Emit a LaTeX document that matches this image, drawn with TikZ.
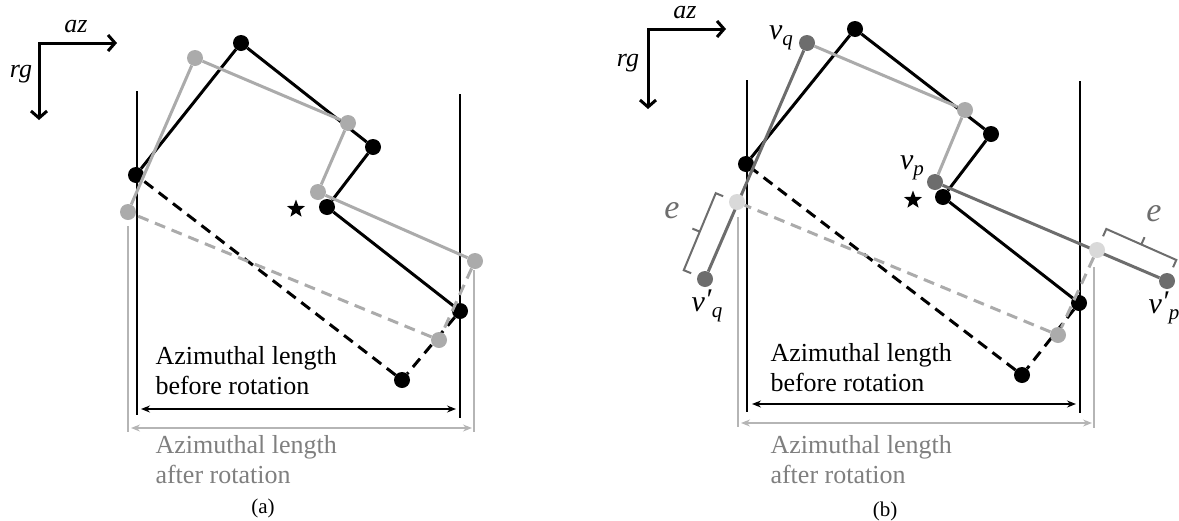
\documentclass[tikz,border=0pt]{standalone}
\usepackage{fontspec}
\setmainfont{Liberation Serif}
\usetikzlibrary{arrows.meta,shapes.geometric,calc}

\definecolor{lightpoly}{HTML}{ABABAB}
\definecolor{darkpoly}{HTML}{6D6D6D}
\definecolor{fadedpoly}{HTML}{D9D9D9}
\definecolor{spangray}{HTML}{B5B5B5}
\definecolor{textgray}{HTML}{7F7F7F}

\newcommand{\lblfont}{\fontsize{26}{30}\selectfont}
\newcommand{\vlblfont}{\fontsize{30}{32}\selectfont}
\newcommand{\elblfont}{\fontsize{34}{36}\selectfont}
\newcommand{\capfont}{\fontsize{21}{24}\selectfont}
\newcommand{\subq}[1]{\raisebox{-6pt}{\fontsize{21}{21}\selectfont\textit{#1}}}
\newcommand{\vname}[1]{\textit{v}\subq{#1}}
\newcommand{\vmoved}[1]{\textit{v}\raisebox{2pt}{\textit{\char"2032}}\subq{#1}}

\begin{document}
\begin{tikzpicture}[x=1pt,y=-1pt,
  vdot/.style={circle,fill=#1,inner sep=0pt,minimum size=16pt},
  vdot/.default=black,
  poly/.style={line width=3pt},
  polydash/.style={line width=3pt,dash pattern=on 11pt off 7pt},
  wall/.style={line width=1.5pt},
  span/.style={line width=1.3pt,{Stealth[length=9pt,width=7pt,inset=3pt]}-{Stealth[length=9pt,width=7pt,inset=3pt]}},
  axis/.style={line width=3pt,line join=miter,{Straight Barb[length=7pt,width=16pt]}-{Straight Barb[length=7pt,width=16pt]}},
  brk/.style={line width=2pt,darkpoly},
  cstar/.style={star,star points=5,star point ratio=2.4,fill=black,inner sep=0pt,minimum size=19pt},
  lbl/.style={font=\lblfont},
  mlbl/.style={font=\lblfont\itshape},
  vlbl/.style={font=\vlblfont}
]
\useasboundingbox (0,0) rectangle (1179,520);

%% (a) before and after rotation
\coordinate (oa) at (39,43);
\coordinate (aza) at (117,43);
\coordinate (rga) at (39,120);
\draw[axis] (aza) -- (oa) -- (rga);
\node[mlbl] at (76,27) {az};
\node[mlbl] at (21,74) {rg};

\coordinate (wla1) at (137,91);  \coordinate (wla2) at (137,415);
\coordinate (wra1) at (460,94);  \coordinate (wra2) at (460,418);
\coordinate (gla1) at (128,226); \coordinate (gla2) at (128,432);
\coordinate (gra1) at (474,270); \coordinate (gra2) at (474,432);
\draw[wall] (wla1) -- (wla2);
\draw[wall] (wra1) -- (wra2);
\draw[wall,spangray] (gla1) -- (gla2);
\draw[wall,spangray] (gra1) -- (gra2);

\node[vdot] (ba1) at (241,43) {};
\node[vdot] (ba2) at (373,147) {};
\node[vdot] (ba3) at (327,207) {};
\node[vdot] (ba4) at (460,311) {};
\node[vdot] (ba5) at (402,380) {};
\node[vdot] (ba6) at (136,175) {};
\draw[poly] (ba6) -- (ba1) -- (ba2) -- (ba3) -- (ba4);
\draw[polydash] (ba4) -- (ba5) -- (ba6);

\node[vdot=lightpoly] (ga1) at (195,58) {};
\node[vdot=lightpoly] (ga2) at (348,123) {};
\node[vdot=lightpoly] (ga3) at (318,192) {};
\node[vdot=lightpoly] (ga4) at (475,261) {};
\node[vdot=lightpoly] (ga5) at (439,340) {};
\node[vdot=lightpoly] (ga6) at (128,212) {};
\draw[poly,lightpoly] (ga6) -- (ga1) -- (ga2) -- (ga3) -- (ga4);
\draw[polydash,lightpoly] (ga4) -- (ga5) -- (ga6);

\node[cstar] (ca) at (296,209) {};

\coordinate (sa1) at (141,409); \coordinate (sa2) at (456,409);
\coordinate (ta1) at (131,428); \coordinate (ta2) at (472,428);
\draw[span] (sa1) -- (sa2);
\draw[span,spangray] (ta1) -- (ta2);
\node[lbl,anchor=base west,align=left] (lena) at (152,394) {Azimuthal length\\before rotation};
\node[lbl,anchor=base west,align=left,textgray] (lenb) at (152,483) {Azimuthal length\\after rotation};
\node[font=\capfont] at (263,508) {(a)};

%% (b) with the moved vertices
\coordinate (ob) at (648,29);
\coordinate (azb) at (726,29);
\coordinate (rgb) at (648,109);
\draw[axis] (azb) -- (ob) -- (rgb);
\node[mlbl] at (685,13) {az};
\node[mlbl] at (628,63) {rg};

\coordinate (wlb1) at (747,80);   \coordinate (wlb2) at (747,412);
\coordinate (wrb1) at (1080,81);  \coordinate (wrb2) at (1080,413);
\coordinate (glb1) at (738,217);  \coordinate (glb2) at (738,427);
\coordinate (grb1) at (1094,267); \coordinate (grb2) at (1094,428);
\draw[wall] (wlb1) -- (wlb2);
\draw[wall] (wrb1) -- (wrb2);
\draw[wall,spangray] (glb1) -- (glb2);
\draw[wall,spangray] (grb1) -- (grb2);

\node[vdot] (bb1) at (855,29) {};
\node[vdot] (bb2) at (991,134) {};
\node[vdot] (bb3) at (943,197) {};
\node[vdot] (bb4) at (1079,303) {};
\node[vdot] (bb5) at (1022,375) {};
\node[vdot] (bb6) at (746,164) {};
\draw[poly] (bb6) -- (bb1) -- (bb2) -- (bb3) -- (bb4);
\draw[polydash] (bb4) -- (bb5) -- (bb6);

\node[vdot=darkpoly] (vq) at (807,43) {};
\node[vdot=lightpoly] (gb2) at (965,110) {};
\node[vdot=darkpoly] (vp) at (935,182) {};
\node[vdot=lightpoly] (gb5) at (1058,335) {};
\node[vdot=darkpoly] (vq2) at (705,279) {};
\node[vdot=darkpoly] (vp2) at (1167,281) {};
\draw[poly,lightpoly] (vq) -- (gb2) -- (vp);
\draw[poly,darkpoly] (vq) -- (vq2);
\draw[poly,darkpoly] (vp) -- (vp2);
\node[vdot=fadedpoly] (gb4) at (1097,250) {};
\node[vdot=fadedpoly] (gb6) at (737,202) {};
\draw[polydash,lightpoly] (gb4) -- (gb5) -- (gb6);

\node[cstar] (cb) at (913,200) {};

% brackets for e
\coordinate (ea) at ($(gb6)!23pt!-90:(vq2)$);
\coordinate (eb) at ($(vq2)!23pt!90:(gb6)$);
\coordinate (ec) at ($(ea)!0.5!(eb)$);
\draw[brk] ($(ea)!8pt!90:(eb)$) -- (ea) -- (eb) -- ($(eb)!8pt!-90:(ea)$);
\draw[brk] (ec) -- ($(ec)!8pt!90:(ea)$);
\coordinate (fa) at ($(gb4)!23pt!90:(vp2)$);
\coordinate (fb) at ($(vp2)!23pt!-90:(gb4)$);
\coordinate (fc) at ($(fa)!0.5!(fb)$);
\draw[brk] ($(fa)!8pt!-90:(fb)$) -- (fa) -- (fb) -- ($(fb)!8pt!90:(fa)$);
\draw[brk] (fc) -- ($(fc)!8pt!-90:(fa)$);
\node[font=\elblfont\itshape,darkpoly] at (672,211) {e};
\node[font=\elblfont\itshape,darkpoly] at (1154,214) {e};

\node[vlbl] at (781,38) {\vname{q}};
\node[vlbl] at (912,168) {\vname{p}};
\node[vlbl] at (707,306) {\vmoved{q}};
\node[vlbl] at (1164,308) {\vmoved{p}};

\coordinate (sb1) at (752,404);  \coordinate (sb2) at (1076,404);
\coordinate (tb1) at (741,423);  \coordinate (tb2) at (1092,423);
\draw[span] (sb1) -- (sb2);
\draw[span,spangray] (tb1) -- (tb2);
\node[lbl,anchor=base west,align=left] (lenc) at (767,391) {Azimuthal length\\before rotation};
\node[lbl,anchor=base west,align=left,textgray] (lend) at (767,483) {Azimuthal length\\after rotation};
\node[font=\capfont] at (885,511) {(b)};
\end{tikzpicture}
\end{document}
